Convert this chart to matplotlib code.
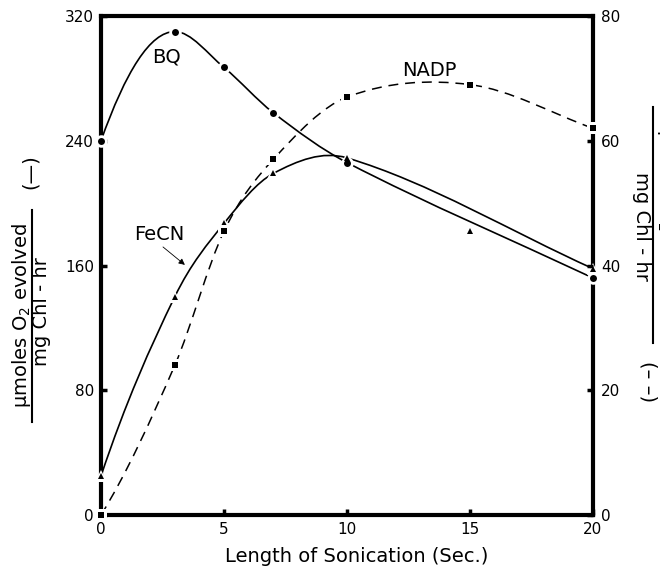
import matplotlib
matplotlib.use("Agg")
import matplotlib.pyplot as plt
from matplotlib.path import Path
from matplotlib.patches import PathPatch
from matplotlib.lines import Line2D

# data
sonication = [0, 3, 5, 7, 10, 20]
bq = [240, 310, 287, 258, 226, 152]

fecn_x = [0, 3, 5, 7, 10, 15, 20]
fecn = [25, 140, 187, 219, 229, 182, 158]
fecn_off_curve = [15]   # the hand-drawn FeCN curve passes above this point

nadp_x = [0, 3, 5, 7, 10, 15, 20]
nadp = [0, 24, 45.5, 57, 67, 69, 62]   # right axis

left_ticks = [0, 80, 160, 240, 320]
right_ticks = [0, 20, 40, 60, 80]
x_ticks = [0, 5, 10, 15, 20]


def smooth_path(xs, ys):
    # Catmull-Rom style cubic through the points, written as bezier segments
    n = len(xs)
    h = [xs[i + 1] - xs[i] for i in range(n - 1)]
    d = [(ys[i + 1] - ys[i]) / h[i] for i in range(n - 1)]
    m = [0.0] * n
    for k in range(1, n - 1):
        m[k] = (ys[k + 1] - ys[k - 1]) / (xs[k + 1] - xs[k - 1])
        if d[k - 1] > 0 > d[k]:
            m[k] = min(m[k], 0.0)
        elif d[k - 1] < 0 < d[k]:
            m[k] = max(m[k], 0.0)
    s = ((2 * h[0] + h[1]) * d[0] - h[0] * d[1]) / (h[0] + h[1])
    m[0] = s if s * d[0] > 0 else 0.0
    m[-1] = d[-1]
    verts = [(xs[0], ys[0])]
    codes = [Path.MOVETO]
    for i in range(n - 1):
        verts += [(xs[i] + h[i] / 3, ys[i] + m[i] * h[i] / 3),
                  (xs[i + 1] - h[i] / 3, ys[i + 1] - m[i + 1] * h[i] / 3),
                  (xs[i + 1], ys[i + 1])]
        codes += [Path.CURVE4] * 3
    return Path(verts, codes)


def dots(axis, xs, ys, marker, size):
    # white halo first so lines and spines break around each point
    axis.plot(xs, ys, marker, color='white', ms=size + 4, mew=0,
              zorder=5, clip_on=False)
    axis.plot(xs, ys, marker, color='black', ms=size, mew=0,
              zorder=6, clip_on=False)


plt.rcParams['font.family'] = ['DejaVu Sans']
W, H = 660, 570
fig = plt.figure(figsize=(6.6, 5.7), dpi=100)
ax = fig.add_axes([101 / W, 1 - 515 / H, (593 - 101) / W, (515 - 16) / H])
ax2 = ax.twinx()

ax.set_xlim(0, 20)
ax.set_ylim(0, 320)
ax2.set_ylim(0, 80)

for s in ax.spines.values():
    s.set_linewidth(3)
for s in ax2.spines.values():
    s.set_visible(False)

# curves
fx = [x for x in fecn_x if x not in fecn_off_curve]
fy = [y for x, y in zip(fecn_x, fecn) if x not in fecn_off_curve]
ax.add_patch(PathPatch(smooth_path(sonication, bq), fill=False, lw=1.2,
                       ec='black', zorder=3))
ax.add_patch(PathPatch(smooth_path(fx, fy), fill=False, lw=1.2,
                       ec='black', zorder=3))
ax2.add_patch(PathPatch(smooth_path(nadp_x, nadp), fill=False, lw=1.1,
                        ec='black', ls=(0, (6.5, 4.5)), zorder=3))

# markers
dots(ax, sonication, bq, 'o', 5)
dots(ax, fecn_x, fecn, '^', 4.5)
dots(ax2, nadp_x, nadp, 's', 4)

ax.set_xticks(x_ticks)
ax.set_yticks(left_ticks)
ax2.set_yticks(right_ticks)
ax.tick_params(axis='both', direction='in', length=4, width=2.5,
               labelsize=11, top=False, right=False)
ax.tick_params(axis='y', pad=5)
ax.tick_params(axis='x', pad=5)
ax2.tick_params(axis='y', direction='in', length=4, width=2.5,
                labelsize=11, pad=6)

# curve labels
ax.text(2.68, 294, 'BQ', fontsize=14, ha='center', va='center')
ax.text(13.33, 285, 'NADP', fontsize=14, ha='center', va='center')
ax.text(2.36, 180, 'FeCN', fontsize=14, ha='center', va='center')
ax.annotate('', xy=(3.41, 160.4), xytext=(2.52, 171.9),
            arrowprops=dict(arrowstyle='-|>', lw=0.6, color='black',
                            mutation_scale=9, shrinkA=0, shrinkB=0))

# axis titles
fig.text(357 / W, 1 - 557 / H, 'Length of Sonication (Sec.)', fontsize=14,
         ha='center', va='center')

fig.text(22 / W, 1 - 315 / H, 'μmoles O$_2$ evolved', fontsize=14,
         rotation=90, ha='center', va='center')
fig.add_artist(Line2D([32 / W, 32 / W], [1 - 210 / H, 1 - 422 / H],
                      color='black', lw=1.5))
fig.text(42 / W, 1 - 312 / H, 'mg Chl - hr', fontsize=14,
         rotation=90, ha='center', va='center')
fig.text(30 / W, 1 - 172 / H, '(—)', fontsize=14,
         rotation=90, ha='center', va='center')

# right title: the numerator runs off the edge, as in the original
fig.text(667 / W, 1 - 222 / H, 'μmoles O$_2$ evolved', fontsize=14,
         rotation=-90, ha='center', va='center')
fig.add_artist(Line2D([653 / W, 653 / W], [1 - 107 / H, 1 - 343 / H],
                      color='black', lw=1.5))
fig.text(641 / W, 1 - 226 / H, 'mg Chl - hr', fontsize=14,
         rotation=-90, ha='center', va='center')
fig.text(648 / W, 1 - 382 / H, '(– –)', fontsize=14,
         rotation=-90, ha='center', va='center')

fig.savefig('out.png', dpi=100)
